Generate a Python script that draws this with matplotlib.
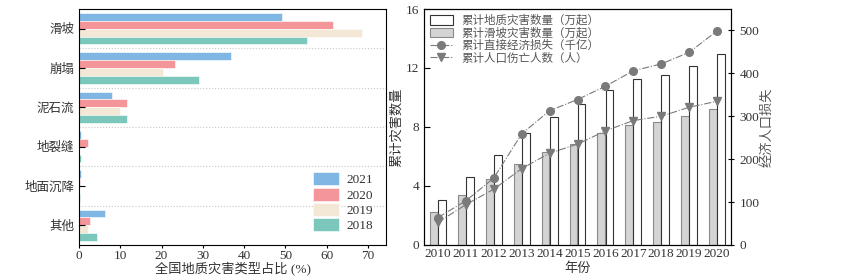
import matplotlib.pyplot as plt
import numpy as np

plt.rcParams['font.family'] = ['Liberation Serif', 'Noto Sans CJK SC']
plt.rcParams['axes.unicode_minus'] = False

# 左图：全国地质灾害类型占比
categories = ['滑坡', '崩塌', '泥石流', '地裂缝', '地面沉降', '其他']
years_bar = ['2021', '2020', '2019', '2018']
share_2021 = [49.2, 36.9, 8.1, 0.5, 0.4, 6.3]
share_2020 = [61.6, 23.2, 11.7, 2.1, 0.3, 2.7]
share_2019 = [68.5, 20.3, 9.9, 0.1, 0.1, 2.2]
share_2018 = [55.3, 29.2, 11.6, 0.5, 0.3, 4.4]
colors_bar = ['#80b6e4', '#f4959a', '#f3e7d5', '#7cc7bc']

# 右图：累计数据
years = ['2010', '2011', '2012', '2013', '2014', '2015', '2016', '2017', '2018', '2019', '2020']
total_count = [3.03, 4.61, 6.08, 7.59, 8.70, 9.54, 10.49, 11.23, 11.50, 12.14, 12.95]
slide_count = [2.24, 3.39, 4.47, 5.49, 6.28, 6.83, 7.61, 8.15, 8.32, 8.75, 9.22]
econ_loss = [64, 103, 156, 259, 313, 339, 370, 406, 422, 449, 499]
casualty = [53, 94, 130, 178, 214, 235, 266, 290, 300, 321, 335]

txt = '#333333'
fig = plt.figure(figsize=(8.45, 2.79), dpi=100)

# ---------------- 左图 ----------------
ax1 = fig.add_axes([0.0935, 0.122, 0.3633, 0.8457])
y = np.arange(len(categories))
h = 0.2
for i, (vals, c, lab) in enumerate(zip([share_2021, share_2020, share_2019, share_2018], colors_bar, years_bar)):
    ax1.barh(y - 0.3 + i * h, vals, height=h, color=c, edgecolor='white', linewidth=0.4, label=lab)
for b in np.arange(0.5, len(categories) - 0.5, 1):
    ax1.axhline(b, color='#c8c8c8', linestyle=':', linewidth=0.8)
ax1.set_ylim(len(categories) - 0.5, -0.5)
ax1.set_xlim(0, 74.4)
ax1.set_yticks(y)
ax1.set_yticklabels(categories, color=txt, fontsize=9)
ax1.set_xticks(np.arange(0, 71, 10))
ax1.tick_params(axis='y', direction='in', length=4)
ax1.tick_params(axis='x', direction='out', length=2, pad=1.5, labelsize=9.5, labelcolor=txt)
ax1.set_xlabel('全国地质灾害类型占比 (%)', color=txt, fontsize=9.5, labelpad=0)
ax1.legend(loc='lower right', frameon=False, fontsize=9.5, handlelength=2.0, handleheight=1.15,
           labelspacing=0.1, handletextpad=0.6, borderaxespad=0.2, labelcolor=txt,
           bbox_to_anchor=(0.985, 0.02))

# ---------------- 右图 ----------------
ax2 = fig.add_axes([0.5018, 0.122, 0.3633, 0.8457])
x = np.arange(len(years))
w = 0.28
ax2.bar(x - 0.145, slide_count, width=w, color='#d4d4d4', edgecolor='#8a8a8a', linewidth=0.8,
        label='累计滑坡灾害数量（万起）', zorder=2)
ax2.bar(x + 0.145, total_count, width=w, color='white', edgecolor='#333333', linewidth=0.8,
        label='累计地质灾害数量（万起）', zorder=2)
ax2.set_xlim(-0.5, 10.5)
ax2.set_ylim(0, 16)
ax2.set_yticks([0, 4, 8, 12, 16])
ax2.set_xticks(x)
ax2.set_xticklabels(years)
ax2.tick_params(axis='y', direction='in', length=4, labelsize=9.5, labelcolor=txt)
ax2.tick_params(axis='x', direction='in', length=3, pad=2, labelsize=9.5, labelcolor=txt)
ax2.set_ylabel('累计灾害数量', color=txt, fontsize=9.5, labelpad=2)
ax2.set_xlabel('年份', color=txt, fontsize=9.5, labelpad=2)

ax3 = ax2.twinx()
l1, = ax3.plot(x, econ_loss, linestyle='-.', color='#7a7a7a', linewidth=0.8, marker='o',
               markersize=5.5, label='累计直接经济损失（千亿）', zorder=3)
l2, = ax3.plot(x, casualty, linestyle='-.', color='#7a7a7a', linewidth=0.8, marker='v',
               markersize=6, label='累计人口伤亡人数（人）', zorder=3)
ax3.set_ylim(0, 550)
ax3.set_yticks([0, 100, 200, 300, 400, 500])
ax3.tick_params(axis='y', direction='inout', length=5, labelsize=9.5, labelcolor=txt)
ax3.set_ylabel('经济人口损失', color='#555555', fontsize=9.5, labelpad=1)

hs, ls = ax2.get_legend_handles_labels()
hs = [hs[1], hs[0], l1, l2]
ls = [ls[1], ls[0], l1.get_label(), l2.get_label()]
ax3.legend(hs, ls, loc='upper left', frameon=False, fontsize=8.3, handlelength=2.0,
           handleheight=0.9, labelspacing=0.05, handletextpad=0.7, borderaxespad=0.1,
           labelcolor='#555555')

fig.savefig('out.png', dpi=100)
